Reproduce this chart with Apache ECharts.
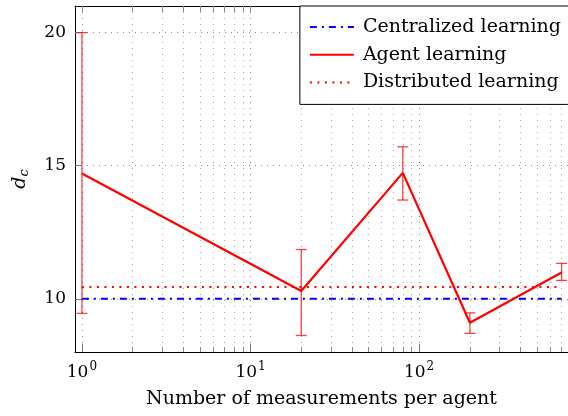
<!DOCTYPE html>
<html>
<head>
<meta charset="utf-8">
<script src="https://cdn.jsdelivr.net/npm/echarts@6/dist/echarts.min.js"></script>
<style>
  html, body { margin: 0; padding: 0; background: #fff; }
  #chart { width: 568px; height: 416px; }
</style>
</head>
<body>
<div id="chart"></div>
<script>
// measurements per agent (x, log axis drawn in log10 space)
const nMeas = [1, 20, 80, 200, 700];
const centralized = [10, 10, 10, 10, 10];
const distributed = [10.44, 10.44, 10.44, 10.44, 10.44];
const agentMean = [14.71, 10.29, 14.73, 9.1, 10.99];
const agentLow = [9.45, 8.62, 13.71, 8.70, 10.69];
const agentHigh = [20.0, 11.85, 15.71, 9.47, 11.33];

const xMajor = [1, 10, 100];
const xMinor = [2, 3, 4, 5, 6, 7, 8, 9, 20, 30, 40, 50, 60, 70, 80, 90, 200, 300, 400, 500, 600, 700];
const yTicks = [10, 15, 20];

const lg = v => Math.log10(v);
const font = 'DejaVu Serif';

const xMin = -0.041, xMax = 2.883;

function pairs(ys) {
  return nMeas.map((n, i) => [lg(n), ys[i]]);
}

const chart = echarts.init(document.getElementById('chart'));

const baseX = {
  type: 'value',
  min: xMin,
  max: xMax,
  axisLabel: { show: false },
  axisLine: { show: false },
  axisTick: { show: false },
  splitLine: { show: false }
};

chart.setOption({
  backgroundColor: '#fff',
  animation: false,
  grid: { left: 75, top: 6, right: -7, bottom: 64 },
  legend: {
    data: ['Centralized learning', 'Agent learning', 'Distributed learning'],
    orient: 'vertical',
    right: -7,
    top: 6,
    backgroundColor: '#fff',
    borderColor: '#000',
    borderWidth: 1,
    borderRadius: 0,
    padding: [11, 14, 12, 9],
    itemWidth: 44,
    itemHeight: 14,
    itemGap: 7.7,
    align: 'left',
    itemStyle: { opacity: 0 },
    textStyle: { fontFamily: font, fontSize: 19, color: '#000', lineHeight: 20, padding: [0, 0, 0, 4] }
  },
  xAxis: [
    Object.assign({}, baseX, {
      position: 'bottom',
      axisLine: { show: true, onZero: false, lineStyle: { color: '#000', width: 1 } },
      axisTick: { show: true, inside: true, length: 8, customValues: xMajor.map(lg), lineStyle: { color: '#777' } },
      axisLabel: {
        show: true,
        customValues: xMajor.map(lg),
        margin: 9,
        formatter: v => '{b|10}{s|' + Math.round(v) + '}',
        rich: {
          b: { fontFamily: font, fontSize: 17, color: '#000' },
          s: { fontFamily: font, fontSize: 12, color: '#000', padding: [0, 0, 11, 1] }
        }
      },
      splitLine: { show: true, lineStyle: { color: '#888', width: 1, type: [1, 5] } },
      name: 'Number of measurements per agent',
      nameLocation: 'middle',
      nameGap: 38,
      nameTextStyle: { fontFamily: font, fontSize: 19, color: '#000' }
    }),
    Object.assign({}, baseX, {
      position: 'bottom',
      axisTick: { show: true, inside: true, length: 5, customValues: xMinor.map(lg), lineStyle: { color: '#888' } },
      splitLine: { show: true, lineStyle: { color: '#aaa', width: 1, type: [1, 5] } }
    }),
    Object.assign({}, baseX, {
      position: 'top',
      axisLine: { show: true, onZero: false, lineStyle: { color: '#000', width: 1 } },
      axisTick: { show: true, inside: true, length: 6, customValues: xMajor.concat(xMinor).map(lg), lineStyle: { color: '#888' } }
    })
  ],
  yAxis: {
    type: 'value',
    min: 8,
    max: 21,
    axisLine: { show: true, onZero: false, lineStyle: { color: '#000', width: 1 } },
    axisTick: { show: true, inside: true, length: 6, customValues: yTicks, lineStyle: { color: '#777' } },
    axisLabel: { customValues: yTicks, margin: 9, fontFamily: font, fontSize: 17, color: '#000' },
    splitLine: { show: true, lineStyle: { color: '#888', width: 1, type: [1, 5] } },
    name: '{d|d}{c|c}',
    nameLocation: 'middle',
    nameGap: 44,
    nameTextStyle: {
      rich: {
        d: { fontFamily: font, fontSize: 19, fontStyle: 'italic', color: '#000' },
        c: { fontFamily: font, fontSize: 13, fontStyle: 'italic', color: '#000', padding: [9, 0, 0, 0] }
      }
    }
  },
  series: [
    {
      name: 'Centralized learning',
      type: 'line',
      data: pairs(centralized),
      symbol: 'none',
      color: '#0000ff',
      lineStyle: { color: '#0000ff', width: 2, type: [7, 5, 2, 5] }
    },
    {
      name: 'error',
      type: 'custom',
      data: nMeas.map((n, i) => [lg(n), agentLow[i], agentHigh[i]]),
      encode: { x: 0, y: [1, 2] },
      renderItem: function (params, api) {
        const lo = api.coord([api.value(0), api.value(1)]);
        const hi = api.coord([api.value(0), api.value(2)]);
        const w = 5.5;
        const st = { stroke: 'rgba(255,0,0,0.75)', lineWidth: 1.3 };
        return {
          type: 'group',
          children: [
            { type: 'line', shape: { x1: lo[0], y1: lo[1], x2: hi[0], y2: hi[1] }, style: st },
            { type: 'line', shape: { x1: lo[0] - w, y1: lo[1], x2: lo[0] + w, y2: lo[1] }, style: st },
            { type: 'line', shape: { x1: hi[0] - w, y1: hi[1], x2: hi[0] + w, y2: hi[1] }, style: st }
          ]
        };
      },
      z: 3
    },
    {
      name: 'Agent learning',
      type: 'line',
      data: pairs(agentMean),
      symbol: 'none',
      color: '#ff0000',
      lineStyle: { color: '#ff0000', width: 2.2 },
      z: 4
    },
    {
      name: 'Distributed learning',
      type: 'line',
      data: pairs(distributed),
      symbol: 'none',
      color: '#ff0000',
      lineStyle: { color: '#ff0000', width: 2, type: [2, 5.5] },
      z: 4
    }
  ]
});
</script>
</body>
</html>
